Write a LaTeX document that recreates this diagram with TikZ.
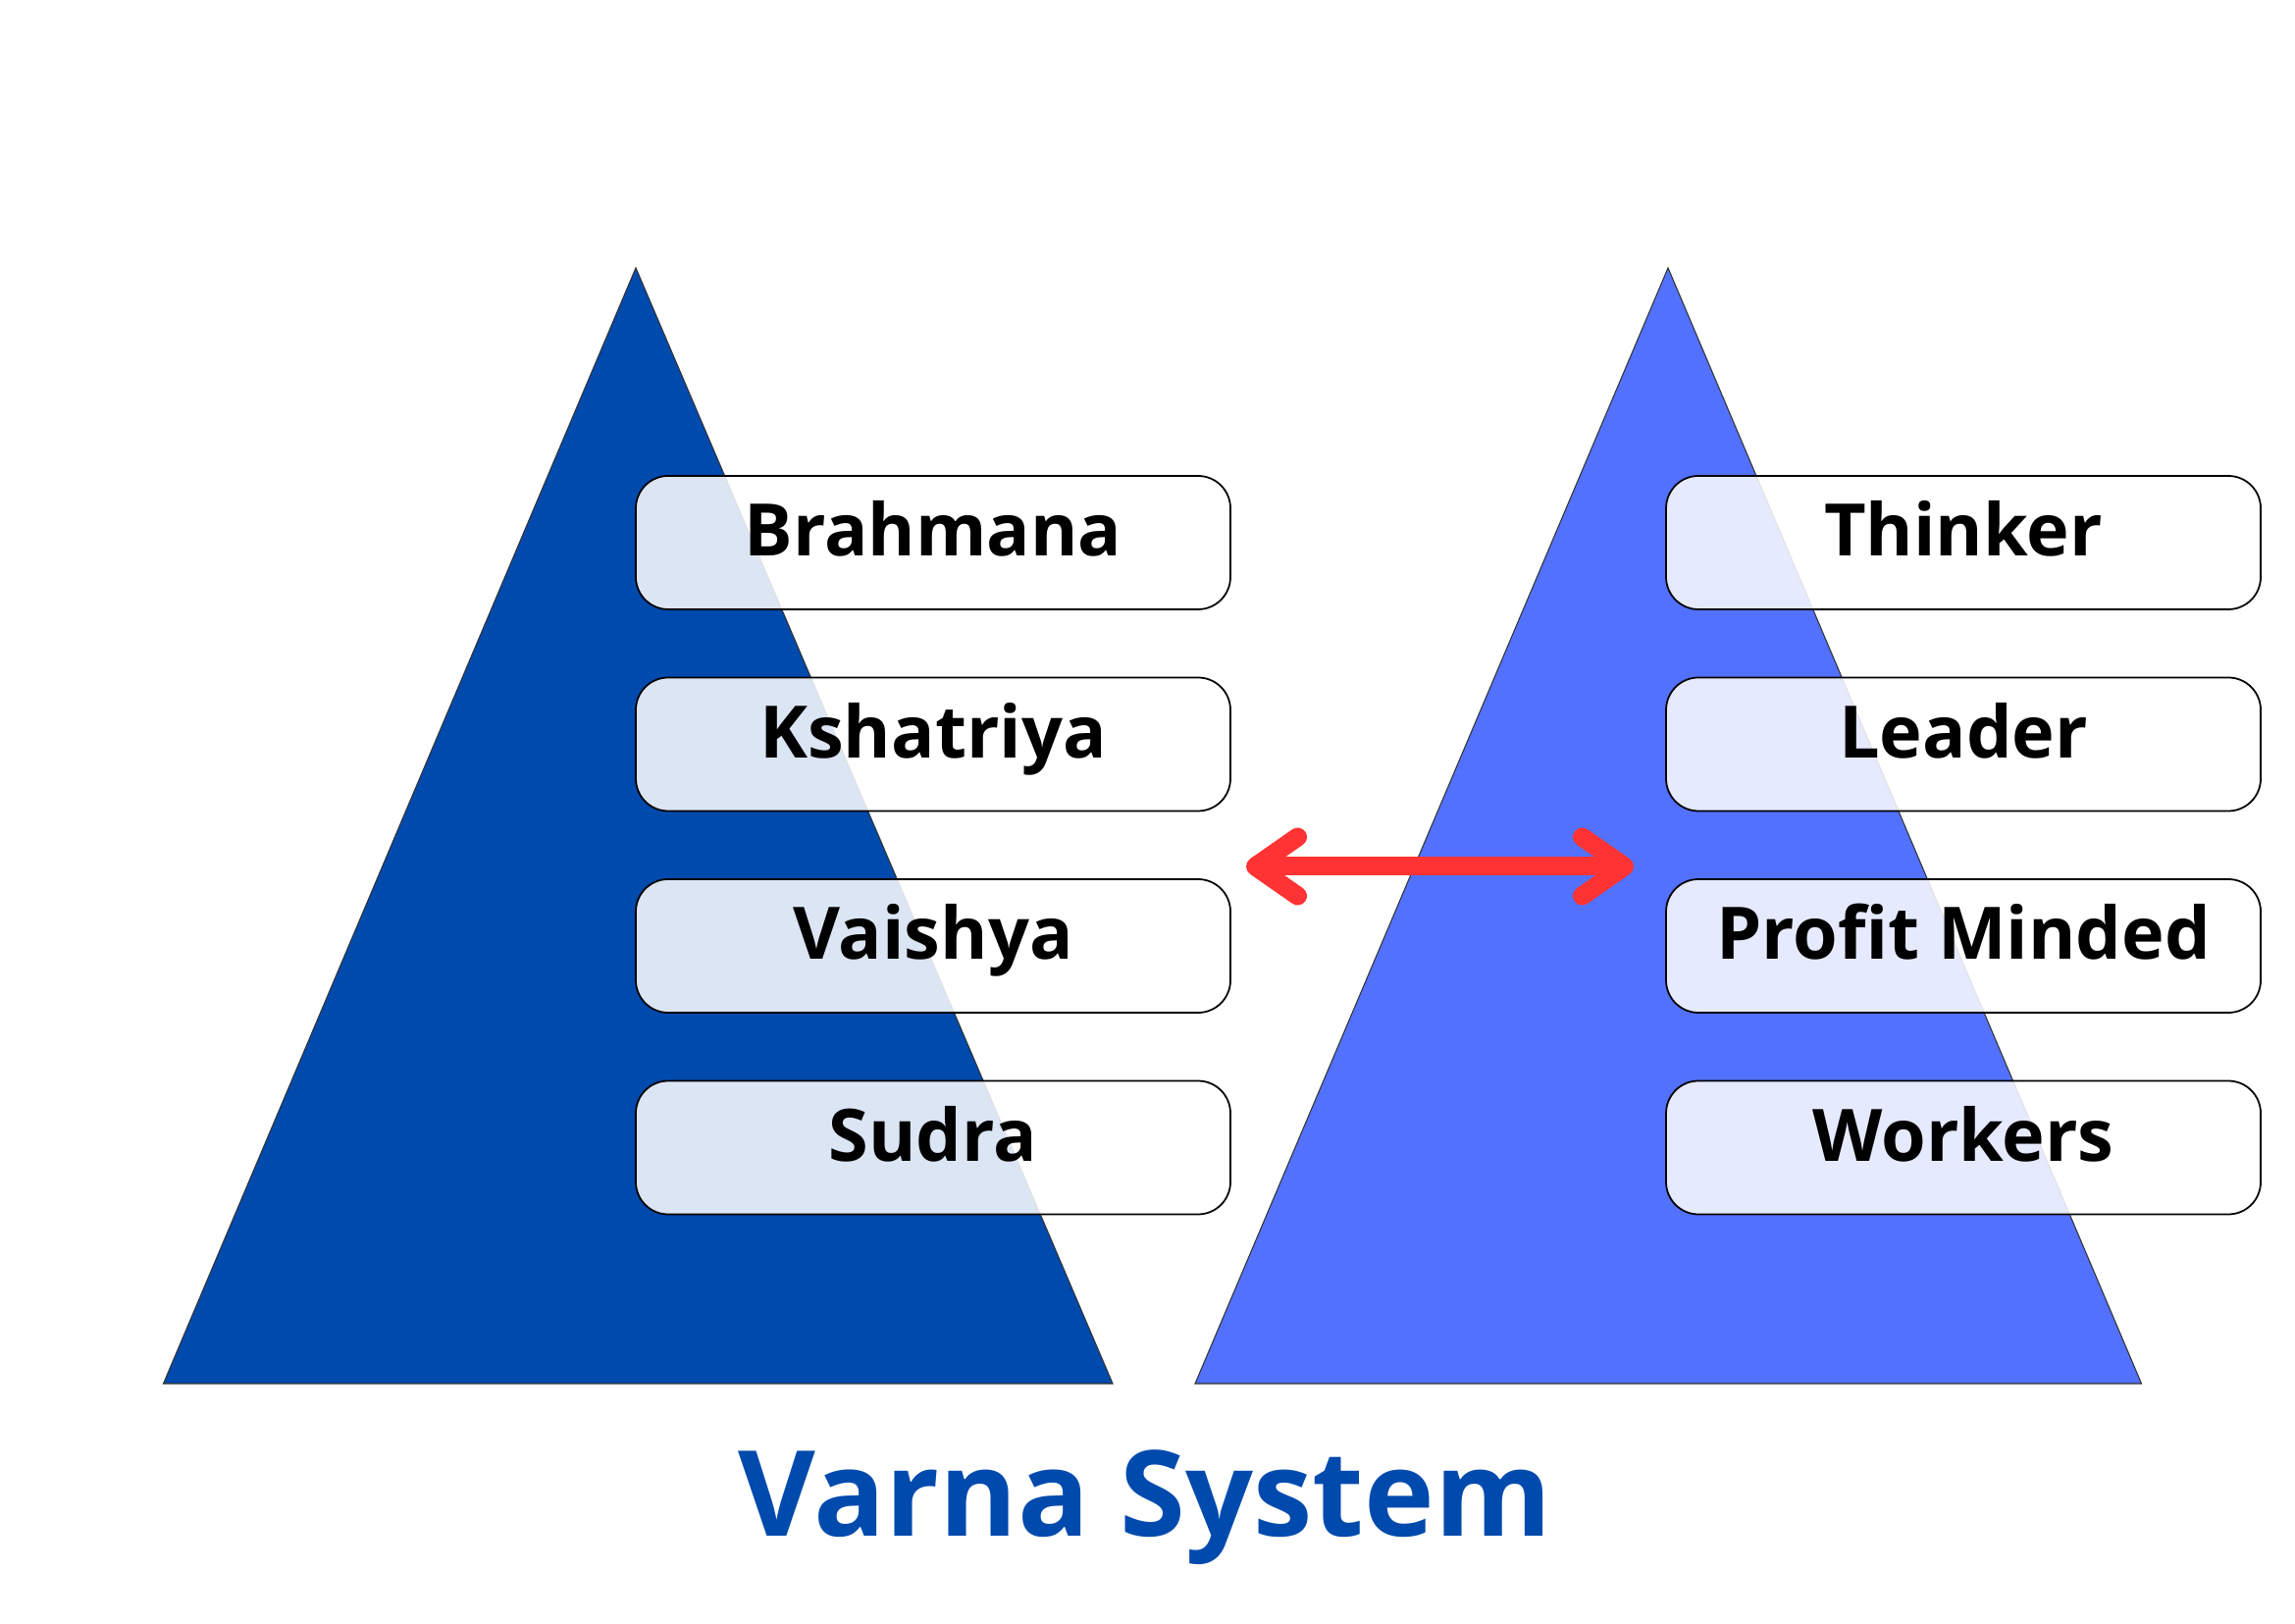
\documentclass[tikz,border=0pt]{standalone}
\usepackage{fontspec}
\setmainfont{Open Sans}
\usepackage{tkz-graph}
\usetikzlibrary{arrows.meta}
\definecolor{varnablue}{HTML}{004AAD}
\definecolor{roleblue}{HTML}{5271FF}
\definecolor{linkred}{HTML}{FF3333}

\begin{document}
\begin{tikzpicture}
\useasboundingbox (0,0) rectangle (23.39,16.54);
\tikzset{VertexStyle/.style =
	{draw = black,
		shape = rectangle,
		rounded corners = 0.33cm,
		fill = white,
		fill opacity = 0.86,
		text opacity = 1,
		text = black,
		line width = 0.5pt,
		minimum width = 6.06cm,
		minimum height = 1.36cm,
		text height = 0.6cm,
		text depth = 0.32cm,
		font = \fontsize{21}{26}\selectfont\bfseries}}
\tikzset{pyramid/.style = {draw = black!80, line width = 0.3pt}}
\tikzset{linkarrow/.style =
	{line width = 0.19cm, color = linkred,
		{Straight Barb[length=0.43cm,width=0.6cm,round]}-{Straight Barb[length=0.43cm,width=0.6cm,round]}}}
% the two pyramids
\fill[pyramid, fill = varnablue] (6.48,13.81) -- (11.34,2.44) -- (1.665,2.44) -- cycle;
\fill[pyramid, fill = roleblue] (17.0,13.81) -- (21.825,2.44) -- (12.18,2.44) -- cycle;
% varna boxes
\Vertex[x=9.51,y=11.01,L=Brahmana]{B}
\Vertex[x=9.51,y=8.955,L=Kshatriya]{K}
\Vertex[x=9.51,y=6.90,L=Vaishya]{V}
\Vertex[x=9.51,y=4.845,L=Sudra]{S}
% role boxes
\Vertex[x=20.01,y=11.01,L=Thinker]{T}
\Vertex[x=20.01,y=8.955,L=Leader]{L}
\Vertex[x=20.01,y=6.90,L=Profit Minded]{P}
\Vertex[x=20.01,y=4.845,L=Workers]{W}
% link
\coordinate (arrL) at (12.70,7.71);
\coordinate (arrR) at (16.65,7.71);
\draw[linkarrow] (arrL) -- (arrR);
% title
\node[text = varnablue, font = \fontsize{34.5}{42}\selectfont\bfseries, anchor = base] (title) at (11.67,0.89) {Varna System};
\end{tikzpicture}
\end{document}
